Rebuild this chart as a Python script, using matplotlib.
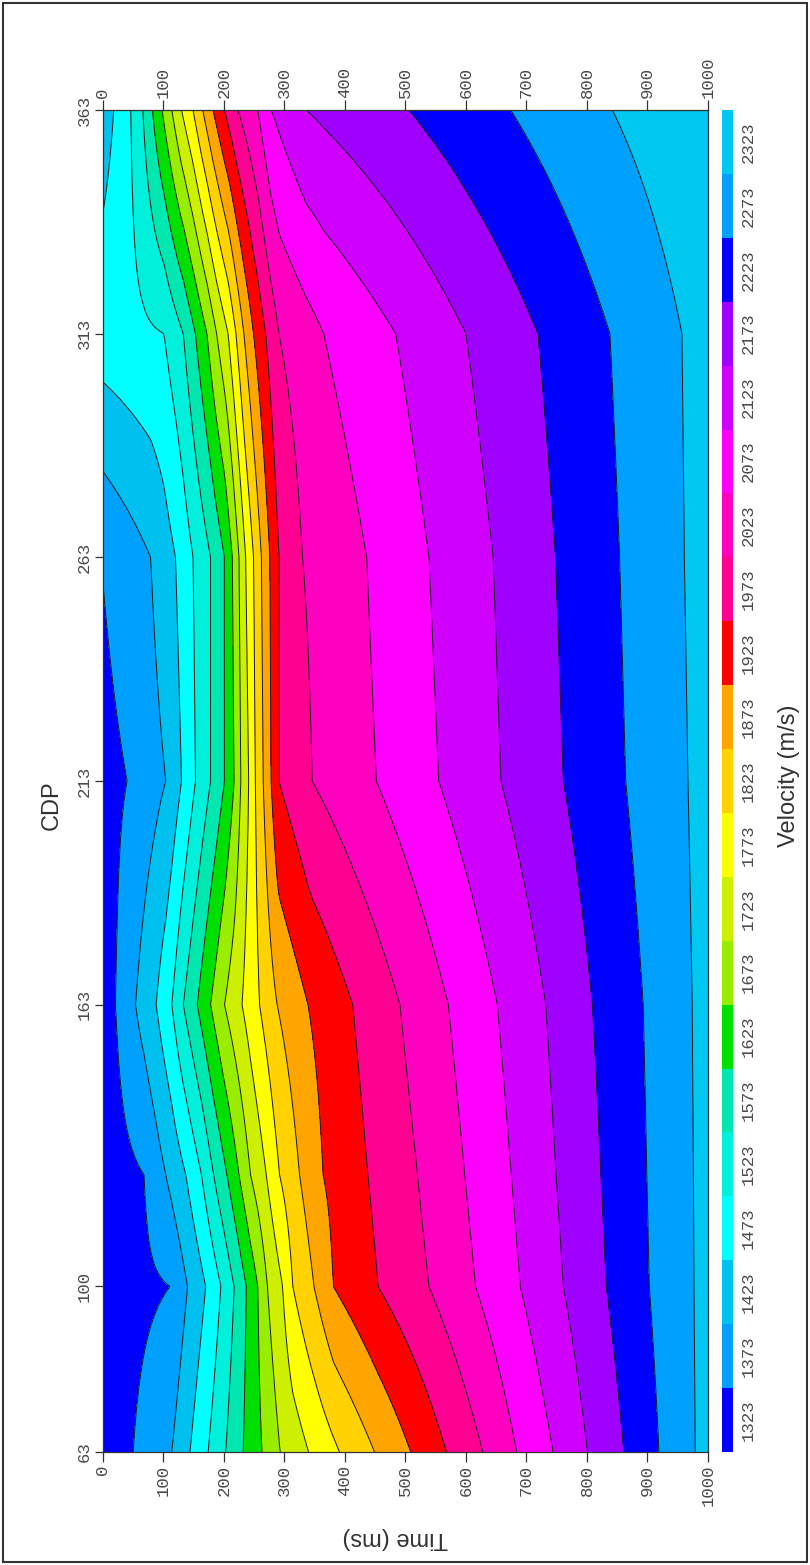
import numpy as np
import matplotlib.pyplot as plt
from matplotlib.patches import Rectangle

# velocity picks (time ms -> velocity m/s) at each analysis CDP
cdp_nodes = [63, 100, 125, 163, 213, 263, 313, 363]

t_63 = [0, 50, 114, 144, 174, 203, 232, 263, 293, 340, 391, 449, 509, 568, 628, 684, 744, 801, 861, 919, 979, 1000]
v_63 = [1323, 1348, 1398, 1448, 1498, 1548, 1598, 1648, 1698, 1748, 1798, 1848, 1898, 1948, 1998, 2048, 2098, 2148, 2198, 2248, 2298, 2316]

t_100 = [0, 111, 140, 170, 195, 217, 237, 256, 272, 297, 314, 349, 381, 455, 539, 616, 690, 761, 832, 903, 977, 1000]
v_100 = [1323, 1348, 1398, 1448, 1498, 1548, 1598, 1648, 1698, 1748, 1798, 1848, 1898, 1948, 1998, 2048, 2098, 2148, 2198, 2248, 2298, 2316]

t_125 = [0, 68, 104, 137, 163, 183, 205, 225, 244, 270, 292, 325, 364, 438, 520, 598, 675, 749, 823, 899, 976, 1000]
v_125 = [1323, 1348, 1398, 1448, 1498, 1548, 1598, 1648, 1698, 1748, 1798, 1848, 1898, 1948, 1998, 2048, 2098, 2148, 2198, 2248, 2298, 2316]

t_163 = [0, 21, 54, 88, 114, 133, 156, 178, 201, 230, 259, 288, 339, 413, 491, 571, 652, 732, 809, 893, 974, 1000]
v_163 = [1335, 1348, 1398, 1448, 1498, 1548, 1598, 1648, 1698, 1748, 1798, 1848, 1898, 1948, 1998, 2048, 2098, 2148, 2198, 2248, 2298, 2316]

t_213 = [0, 40, 104, 130, 153, 178, 201, 217, 228, 241, 252, 265, 278, 291, 346, 452, 555, 658, 761, 864, 967, 1000]
v_213 = [1332, 1348, 1398, 1448, 1498, 1548, 1598, 1648, 1698, 1748, 1798, 1848, 1898, 1948, 1998, 2048, 2098, 2148, 2198, 2248, 2298, 2316]

t_263 = [0, 79, 120, 149, 178, 201, 214, 225, 236, 249, 262, 276, 291, 330, 436, 539, 645, 748, 854, 961, 1000]
v_263 = [1350, 1398, 1448, 1498, 1548, 1598, 1648, 1698, 1748, 1798, 1848, 1898, 1948, 1998, 2048, 2098, 2148, 2198, 2248, 2298, 2316]

t_313 = [0, 101, 133, 153, 172, 188, 207, 220, 233, 249, 269, 291, 365, 484, 600, 719, 838, 957, 1000]
v_313 = [1475, 1498, 1548, 1598, 1648, 1698, 1748, 1798, 1848, 1898, 1948, 1998, 2048, 2098, 2148, 2198, 2248, 2298, 2316]

t_363 = [0, 18, 46, 66, 82, 98, 114, 130, 149, 165, 182, 201, 223, 256, 278, 336, 506, 674, 842, 1000]
v_363 = [1425, 1448, 1498, 1548, 1598, 1648, 1698, 1748, 1798, 1848, 1898, 1948, 1998, 2048, 2098, 2148, 2198, 2248, 2298, 2340]

vel_ticks = [1323, 1373, 1423, 1473, 1523, 1573, 1623, 1673, 1723, 1773, 1823,
             1873, 1923, 1973, 2023, 2073, 2123, 2173, 2223, 2273, 2323]
band_colors = ['#0000ff', '#00a0ff', '#00c0f0', '#00ffff', '#00f0dc', '#00e8b0',
               '#00e000', '#99ee00', '#ccf000', '#ffff00', '#ffd200', '#ffa500',
               '#ff0000', '#ff0090', '#ff00c0', '#ff00ff', '#d000ff', '#a000ff',
               '#0000ff', '#00a0ff', '#00c8f0']
time_ticks = [0, 100, 200, 300, 400, 500, 600, 700, 800, 900, 1000]
cdp_ticks = [63, 100, 163, 213, 263, 313, 363]

picks = [(t_63, v_63), (t_100, v_100), (t_125, v_125), (t_163, v_163),
         (t_213, v_213), (t_263, v_263), (t_313, v_313), (t_363, v_363)]

t_grid = np.arange(0, 1001, 2)
Z = np.array([np.interp(t_grid, tt, vv) for tt, vv in picks])

bounds = [vel_ticks[0] - 25] + [v + 25 for v in vel_ticks]

tick_font = dict(family='Liberation Mono', size=12.5, color='#4a4a4a')

fig = plt.figure(figsize=(8.1, 15.65), dpi=100)
ax = fig.add_axes([0.127, 0.0722, 0.747, 0.8575])
cax = fig.add_axes([0.891, 0.0722, 0.0136, 0.8575])

cf = ax.contourf(t_grid, cdp_nodes, Z, levels=bounds, colors=band_colors)
ax.contour(t_grid, cdp_nodes, Z, levels=bounds[1:-1], colors='#1a1a1a', linewidths=0.7)

ax.set_xlim(0, 1000)
ax.set_ylim(63, 363)
ax.set_xticks(time_ticks)
ax.set_yticks(cdp_ticks)
ax.tick_params(axis='x', top=True, labeltop=True, bottom=True, labelbottom=True,
               direction='out', length=7, width=0.9, pad=2, colors='#333333')
ax.tick_params(axis='y', direction='out', length=6, width=0.9, pad=2, colors='#333333')
for tk in ax.xaxis.get_major_ticks():
    for lab in (tk.label1, tk.label2):
        lab.set_rotation(90)
        lab.set_fontfamily('Liberation Mono')
        lab.set_fontsize(12.5)
        lab.set_color('#4a4a4a')
plt.setp(ax.get_yticklabels(), rotation=90, va='center', **tick_font)
for sp in ax.spines.values():
    sp.set_color('#333333')
    sp.set_linewidth(0.9)

cb = fig.colorbar(cf, cax=cax, ticks=vel_ticks)
cb.outline.set_visible(False)
cax.tick_params(length=0, pad=6)
cb.set_ticklabels([str(v) for v in vel_ticks])
plt.setp(cax.get_yticklabels(), rotation=90, va='center', **tick_font)

fig.text(52 / 810, 1 - 805 / 1565, 'CDP', rotation=90, ha='center', va='center',
         fontsize=17, color='#333333', family='Liberation Sans')
fig.text(789 / 810, 1 - 776 / 1565, 'Velocity (m/s)', rotation=90, ha='center', va='center',
         fontsize=17, color='#333333', family='Liberation Sans')
fig.text(395 / 810, 1 - 1538 / 1565, 'Time (ms)', rotation=180, ha='center', va='center',
         fontsize=17, color='#333333', family='Liberation Sans')

fig.add_artist(Rectangle((0.004, 0.002), 0.992, 0.996, transform=fig.transFigure,
                         fill=False, edgecolor='#333333', linewidth=1.5))

fig.savefig('out.png', dpi=100)
